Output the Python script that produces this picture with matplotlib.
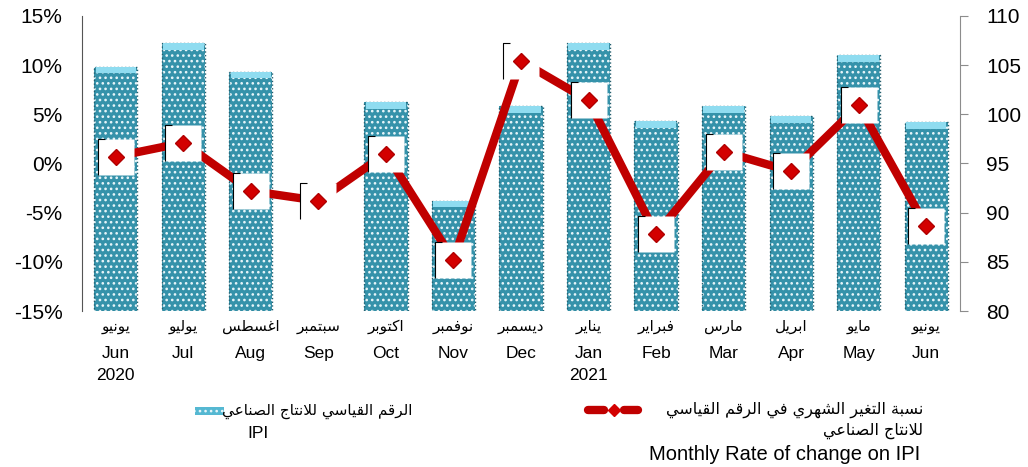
import numpy as np
import matplotlib
matplotlib.use("Agg")
import matplotlib.pyplot as plt
import matplotlib.transforms as mtransforms
from matplotlib.patches import Rectangle
from matplotlib.lines import Line2D
from matplotlib.path import Path

plt.rcParams['font.family'] = ['Liberation Sans', 'DejaVu Sans']
plt.rcParams['hatch.linewidth'] = 1.1

# data
months_ar = ["يونيو", "يوليو", "اغسطس", "سبتمبر", "اكتوبر", "نوفمبر", "ديسمبر",
             "يناير", "فبراير", "مارس", "ابريل", "مايو", "يونيو"]
months_en = ["Jun", "Jul", "Aug", "Sep", "Oct", "Nov", "Dec",
             "Jan", "Feb", "Mar", "Apr", "May", "Jun"]
years = ["2020", "", "", "", "", "", "", "2021", "", "", "", "", ""]
# industrial production index (right axis), Sep bar is not drawn in the source
ipi = np.array([104.8, 107.2, 104.3, np.nan, 101.2, 91.2, 100.8,
                107.2, 99.3, 100.8, 99.8, 106.0, 99.2])
# monthly rate of change, percent (left axis)
rate = np.array([0.7, 2.1, -2.8, -3.8, 1.0, -9.8, 10.4,
                 6.4, -7.2, 1.2, -0.8, 5.9, -6.4])

legend_ipi_ar = "الرقم القياسي للانتاج الصناعي"
legend_ipi_en = "IPI"
legend_rate_ar1 = "نسبة التغير الشهري في الرقم القياسي"
legend_rate_ar2 = "للانتاج الصناعي"
legend_rate_en = "Monthly Rate of change on IPI"

# minimal arabic shaping (presentation forms + reverse), mpl has no RTL layout
AR_BASE = {
    'ا': (0xFE8D, False), 'ب': (0xFE8F, True), 'ة': (0xFE93, False), 'ت': (0xFE95, True),
    'ج': (0xFE9D, True), 'د': (0xFEA9, False), 'ر': (0xFEAD, False), 'س': (0xFEB1, True),
    'ش': (0xFEB5, True), 'ص': (0xFEB9, True), 'ط': (0xFEC1, True), 'ع': (0xFEC9, True),
    'غ': (0xFECD, True), 'ف': (0xFED1, True), 'ق': (0xFED5, True), 'ك': (0xFED9, True),
    'ل': (0xFEDD, True), 'م': (0xFEE1, True), 'ن': (0xFEE5, True), 'ه': (0xFEE9, True),
    'و': (0xFEED, False), 'ي': (0xFEF1, True),
}


def shape(s):
    out = []
    i = 0
    prev_joins = False
    while i < len(s):
        c = s[i]
        if c not in AR_BASE:
            out.append(c)
            prev_joins = False
            i += 1
            continue
        if c == 'ل' and i + 1 < len(s) and s[i + 1] == 'ا':
            out.append(chr(0xFEFC if prev_joins else 0xFEFB))
            prev_joins = False
            i += 2
            continue
        base, dual = AR_BASE[c]
        nxt = s[i + 1] if i + 1 < len(s) else ''
        join_next = dual and nxt in AR_BASE
        if prev_joins and join_next:
            code = base + 3
        elif prev_joins:
            code = base + 1
        elif join_next:
            code = base + 2
        else:
            code = base
        out.append(chr(code))
        prev_joins = join_next
        i += 1
    return ''.join(reversed(out))


AR_FONT = ['DejaVu Sans']
BAR_COLOR = '#3592aa'
CAP_COLOR = '#8fdcf0'
RED = '#c00000'

# bracket-ish outline seen on the white marker boxes (left edge + bit of top)
bracket = Path([(-1, -1), (-1, 1), (-0.6, 1)], [Path.MOVETO, Path.LINETO, Path.LINETO])

fig = plt.figure(figsize=(10.28, 4.67), dpi=100)
ax = fig.add_axes([0.0798, 0.334, 0.854, 0.632])
ax2 = ax.twinx()
ax.set_zorder(ax2.get_zorder() + 1)
ax.patch.set_visible(False)

x = np.arange(len(months_en))
ok = ~np.isnan(ipi)

# bars on the right axis
ax2.bar(x[ok], ipi[ok] - 80, bottom=80, width=0.64, color=BAR_COLOR,
        edgecolor='#e8f6fa', linewidth=0, hatch='...')
ax2.bar(x[ok], ipi[ok] - 80, bottom=80, width=0.64, fill=False,
        edgecolor='#25606f', linewidth=1.0, linestyle=':')
ax2.bar(x[ok], 0.65, bottom=ipi[ok] - 0.65, width=0.6, color=CAP_COLOR, linewidth=0)
ax2.set_ylim(80, 110)
ax2.set_yticks(np.arange(80, 111, 5))

# rate line on the left axis
ax.plot(x, rate, color=RED, lw=6, solid_joinstyle='miter', zorder=2)
ax.plot(x, rate, 's', ms=26, mfc='white', mec='none', zorder=3)
ax.plot(x, rate, marker=bracket, ms=26, fillstyle='none', mec='black', mew=0.8,
        lw=0, zorder=3.5)
ax.plot(x, rate, 'D', ms=8, color='#d30000', mec='#b00000', zorder=4)
ax.set_ylim(-15, 15)
ax.set_yticks(np.arange(-15, 16, 5))
ax.set_yticklabels([f"{v}%" for v in range(-15, 16, 5)])
ax.set_xlim(-0.5, 12.5)

for s in ['top', 'bottom', 'right']:
    ax.spines[s].set_visible(False)
ax.spines['left'].set_color('#555555')
for s in ['top', 'bottom', 'left']:
    ax2.spines[s].set_visible(False)
ax2.spines['right'].set_color('#8c8c8c')

ax.tick_params(axis='y', length=0, pad=14, labelsize=15)
ax2.tick_params(axis='y', length=6, color='#8c8c8c', pad=13, labelsize=15)
ax.tick_params(axis='x', length=0, labelbottom=False)
ax2.tick_params(axis='x', length=0, labelbottom=False)

# category labels: arabic / english / year
trans = mtransforms.blended_transform_factory(ax.transData, fig.transFigure)
for i in x:
    ax.text(i, 0.300, shape(months_ar[i]), transform=trans, ha='center', va='center',
            fontsize=11, family=AR_FONT)
    ax.text(i, 0.244, months_en[i], transform=trans, ha='center', va='center', fontsize=12.5)
    if years[i]:
        ax.text(i, 0.197, years[i], transform=trans, ha='center', va='center', fontsize=12.5)

# legend, drawn by hand like the source
fig.patches.append(Rectangle((195 / 1028, 1 - 415 / 467), 29 / 1028, 8 / 467,
                             transform=fig.transFigure, facecolor='#55b8d2',
                             edgecolor='#e8f6fa', linewidth=0, hatch='...'))
fig.text(412 / 1028, 1 - 411 / 467, shape(legend_ipi_ar), ha='right', va='center',
         fontsize=11, family=AR_FONT)
fig.text(258 / 1028, 1 - 433 / 467, legend_ipi_en, ha='center', va='center', fontsize=12.5)

fig.lines.append(Line2D([588 / 1028, 604 / 1028], [1 - 410 / 467] * 2, transform=fig.transFigure,
                        color=RED, lw=6, solid_capstyle='round'))
fig.lines.append(Line2D([624 / 1028, 638 / 1028], [1 - 410 / 467] * 2, transform=fig.transFigure,
                        color=RED, lw=6, solid_capstyle='round'))
fig.lines.append(Line2D([614 / 1028], [1 - 410 / 467], transform=fig.transFigure,
                        marker='D', ms=6, color='#d30000', lw=0))
fig.text(923 / 1028, 1 - 410 / 467, shape(legend_rate_ar1), ha='right', va='center',
         fontsize=11.5, family=AR_FONT)
fig.text(923 / 1028, 1 - 431 / 467, shape(legend_rate_ar2), ha='right', va='center',
         fontsize=11.5, family=AR_FONT)
fig.text(920 / 1028, 1 - 455 / 467, legend_rate_en, ha='right', va='center', fontsize=14.5)

fig.savefig("out.png", dpi=100)
